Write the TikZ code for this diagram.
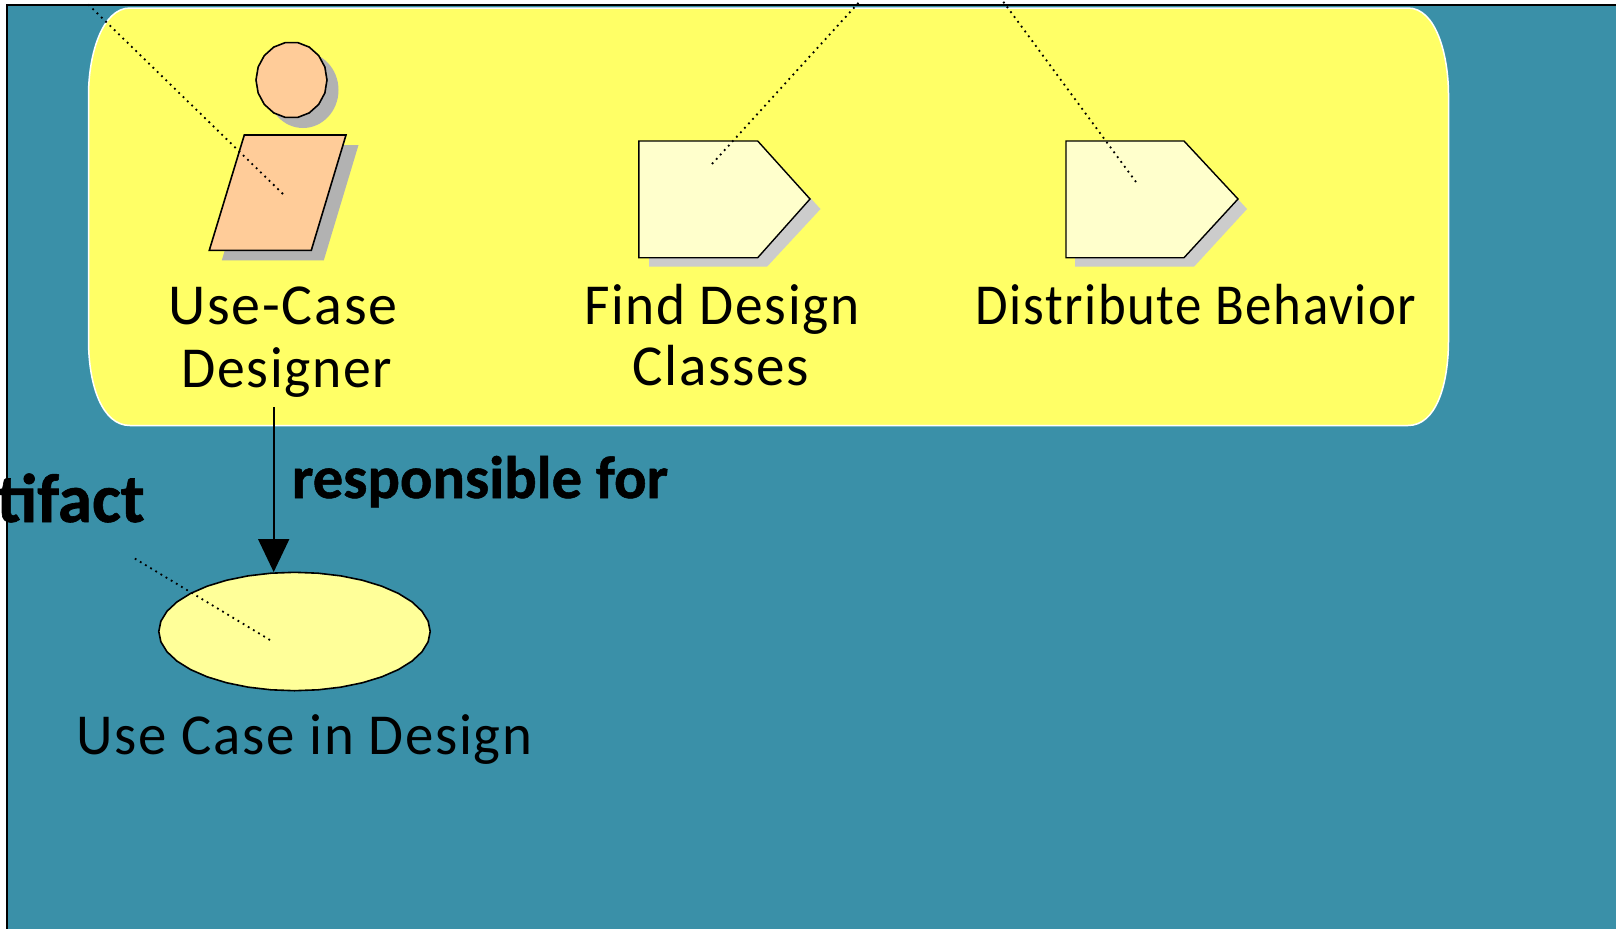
\documentclass[tikz,border=0pt]{standalone}
\usepackage{fontspec}
\setmainfont{Carlito}
\newfontfamily\lblfont[LetterSpace=3]{Carlito}
\newfontfamily\heavy[BoldFeatures={FakeBold=0.9}]{Carlito}
\usetikzlibrary{shapes.geometric,arrows.meta}
\definecolor{teal1}{HTML}{3A90A8}
\definecolor{yel}{HTML}{FFFF66}
\definecolor{peach}{HTML}{FFCC99}
\definecolor{pale}{HTML}{FFFFCC}
\definecolor{ellfill}{HTML}{FFFF99}
\definecolor{shadowA}{HTML}{B2B2B2}
\definecolor{shadowB}{HTML}{CCCCCC}
\tikzset{
  x=1pt,y=-1pt,
  outl/.style={draw=black,line width=1.6pt,line join=miter},
  dots/.style={draw=black,line width=1.8pt,dash pattern=on 1.8pt off 4.2pt},
  lbl/.style={font=\fontsize{58}{62}\selectfont\lblfont,text=black,inner sep=0pt,align=center,anchor=base},
  blbl/.style={font=\fontsize{60}{62}\selectfont\heavy\bfseries,text=black,inner sep=0pt,anchor=base},
}
\begin{document}
\begin{tikzpicture}
\useasboundingbox (0,0) rectangle (1616,928.8);
\fill[white] (0,0) rectangle (1616,928.8);
\fill[teal1] (7,5) rectangle (1616,928.8);
\draw[black,line width=1.6pt] (7,928.8) -- (7,5) -- (1616,5);
% yellow panel
\path[fill=yel,draw=white,line width=1.5pt]
  (130,8) -- (1408,8)
  .. controls (1436,8) and (1448.5,55) .. (1448.5,95)
  -- (1448.5,340)
  .. controls (1448.5,385) and (1436,425.5) .. (1408,425.5)
  -- (130,425.5)
  .. controls (102,425.5) and (88.5,385) .. (88.5,340)
  -- (88.5,95)
  .. controls (88.5,55) and (102,8) .. (130,8) -- cycle;
% actor
\fill[shadowA] (303,90) ellipse [x radius=35.5,y radius=38];
\draw[outl,fill=peach] plot[samples=18,domain=0:340] ({291.5+35.5*cos(\x)},{80+38*sin(\x)}) -- cycle;
\fill[shadowA] (256.8,145) -- (358.5,145) -- (323.8,260.3) -- (221.8,260.3) -- cycle;
\path[outl,fill=peach] (244.3,135) -- (346,135) -- (311.3,250.3) -- (209.3,250.3) -- cycle;
% activities
\fill[shadowB] (649,151) -- (767,151) -- (820.5,209) -- (767,266.7) -- (649,266.7) -- cycle;
\path[outl,line width=1.4pt,fill=pale] (638.8,141) -- (757.7,141) -- (810,199) -- (757.7,257.7) -- (638.8,257.7) -- cycle;
\fill[shadowB] (1075,151) -- (1194,151) -- (1247,209) -- (1194,266.7) -- (1075,266.7) -- cycle;
\path[outl,line width=1.4pt,fill=pale] (1066,141) -- (1184,141) -- (1238,199) -- (1184,257.7) -- (1066,257.7) -- cycle;
% artifact
\node[ellipse,minimum width=271.5pt,minimum height=118.5pt,inner sep=0pt] (uc) at (294.5,631.5) {};
\draw[outl,fill=ellfill] plot[samples=36,domain=0:350] ({294.5+135.7*cos(\x)},{631.5+59.2*sin(\x)}) -- cycle;
% dotted leaders
\coordinate (d1a) at (85.7,2); \coordinate (d1b) at (283,194);
\coordinate (d2a) at (861,0); \coordinate (d2b) at (712,164);
\coordinate (d3a) at (1002,0); \coordinate (d3b) at (1136,182);
\coordinate (d4a) at (131.7,556.7); \coordinate (d4b) at (270,640);
\draw[dots] (d1b) -- (d1a);
\draw[dots] (d2b) -- (d2a);
\draw[dots] (d3b) -- (d3a);
\draw[dots] (d4b) -- (d4a);
% arrow
\coordinate (armtop) at (273.7,407);
\draw[line width=1.7pt,-{Triangle[length=33pt,width=31pt]}] (armtop) -- (armtop |- uc.north);
% labels
\node[lbl] (t1) at (283,324) {Use-Case};
\node[lbl] (t1b) at (287,387.5) {\scalebox{0.96}[1]{Designer}};
\node[lbl] (t2) at (722,324) {\scalebox{0.955}[1]{Find Design}};
\node[lbl] (t2b) at (721,385) {\scalebox{0.985}[1]{Classes}};
\node[lbl] (t3) at (1196,324) {\scalebox{0.912}[1]{Distribute Behavior}};
\node[lbl] (t4) at (304.5,754) {\scalebox{0.98}[1]{Use Case in Design}};
\node[blbl] (t5) at (480,498) {\scalebox{1.01}[1]{responsible for}};
\node[blbl,font=\fontsize{69}{72}\selectfont\heavy\bfseries,anchor=base east] (t6) at (145,522) {tifact};
\end{tikzpicture}
\end{document}
